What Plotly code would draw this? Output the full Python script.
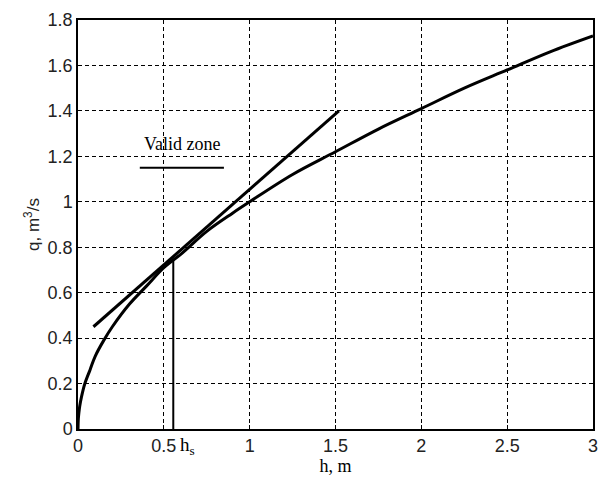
import plotly.graph_objects as go

# q-h curve
h_curve = [0, 0.002, 0.005, 0.01, 0.02, 0.04, 0.07, 0.1, 0.15, 0.2, 0.3, 0.4, 0.5, 0.6, 0.75, 0.9,
           1.0, 1.25, 1.5, 1.75, 2.0, 2.25, 2.5, 2.75, 3.0]
q_curve = [0, 0.045, 0.07, 0.10, 0.14, 0.20, 0.26, 0.32, 0.39, 0.45, 0.55, 0.63, 0.71, 0.77, 0.87, 0.95,
           1.0, 1.12, 1.22, 1.32, 1.41, 1.50, 1.58, 1.66, 1.73]

# tangent line
h_tan = [0.09, 1.52]
q_tan = [0.45, 1.40]

# h_s marker
h_s = 0.555
q_s = 0.745

# valid zone legend line
h_zone = [0.36, 0.85]
q_zone = [1.15, 1.15]

x_ticks = [0, 0.5, 1, 1.5, 2, 2.5, 3]
x_tick_text = ["0", "0.5", "1", "1.5", "2", "2.5", "3"]
y_ticks = [0, 0.2, 0.4, 0.6, 0.8, 1.0, 1.2, 1.4, 1.6, 1.8]
y_tick_text = ["0", "0.2", "0.4", "0.6", "0.8", "1", "1.2", "1.4", "1.6", "1.8"]

line = dict(color="black", width=3)
fig = go.Figure()
fig.add_trace(go.Scatter(x=h_curve, y=q_curve, mode="lines", line=line, line_shape="spline"))
fig.add_trace(go.Scatter(x=h_tan, y=q_tan, mode="lines", line=line))
fig.add_trace(go.Scatter(x=[h_s, h_s], y=[0, q_s], mode="lines", line=dict(color="black", width=2)))
fig.add_trace(go.Scatter(x=h_zone, y=q_zone, mode="lines", line=dict(color="black", width=2)))

serif = "Liberation Serif, Times New Roman, serif"
sans = "Liberation Sans, Arial, sans-serif"

fig.add_annotation(x=(h_zone[0] + h_zone[1]) / 2, y=1.255, text="Valid zone", showarrow=False,
                   font=dict(family=serif, size=18, color="black"))
fig.add_annotation(x=0.585, xref="x", y=0, yref="paper", yanchor="top", xanchor="left", yshift=-3,
                   text="h<sub>s</sub>", showarrow=False, font=dict(family=serif, size=19, color="black"))

axis_common = dict(showline=True, linecolor="black", linewidth=1.5, mirror="ticks",
                   ticks="inside", ticklen=4, tickcolor="black",
                   showgrid=True, gridcolor="black", gridwidth=1, griddash="4px,3px",
                   zeroline=False, tickfont=dict(family=sans, size=18, color="#222"))

fig.update_xaxes(range=[0, 3], tickvals=x_ticks, ticktext=x_tick_text,
                 title=dict(text="h, m", font=dict(family=serif, size=18, color="black"), standoff=0),
                 **axis_common)
fig.update_yaxes(range=[0, 1.8], tickvals=y_ticks, ticktext=y_tick_text,
                 title=dict(text="q, m<sup>3</sup>/s", font=dict(family=sans, size=17, color="#222"), standoff=4),
                 **axis_common)

fig.update_layout(width=602, height=478, showlegend=False,
                  margin=dict(l=78, r=4, t=20, b=49),
                  plot_bgcolor="white", paper_bgcolor="white")

fig.write_html("out.html")
